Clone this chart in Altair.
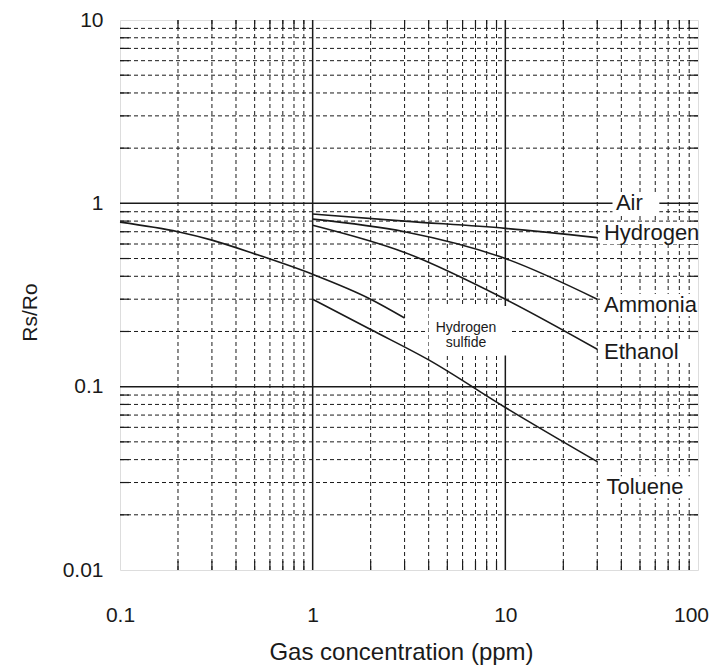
import altair as alt
import pandas as pd

# ---- curve data ----
hydrogen_x = [1, 3, 10, 30]
hydrogen_y = [0.875, 0.80, 0.73, 0.65]
ammonia_x = [1, 3, 10, 30]
ammonia_y = [0.82, 0.70, 0.50, 0.30]
ethanol_x = [1, 3, 10, 30]
ethanol_y = [0.76, 0.54, 0.30, 0.16]
h2s_x = [0.1, 0.2, 0.3, 0.5, 1, 2, 3]
h2s_y = [0.79, 0.70, 0.63, 0.53, 0.41, 0.30, 0.237]
toluene_x = [1, 2, 4, 10, 30]
toluene_y = [0.30, 0.205, 0.14, 0.077, 0.039]

# ---- axis ticks / grid ----
x_ticks = [0.1, 1, 10, 100]
y_ticks = [0.01, 0.1, 1, 10]
x_major = [1, 10]
y_major = [0.1, 1]
x_minor = [0.2, 0.3, 0.4, 0.5, 0.6, 0.7, 0.8, 0.9,
           2, 3, 4, 5, 6, 7, 8, 9,
           20, 30, 40, 50, 60, 70, 80, 90]
y_minor = [0.02, 0.03, 0.04, 0.05, 0.06, 0.07, 0.08, 0.09,
           0.2, 0.3, 0.4, 0.5, 0.6, 0.7, 0.8, 0.9,
           2, 3, 4, 5, 6, 7, 8, 9]

# ---- labels ----
label_text = ["Air", "Hydrogen", "Ammonia", "Ethanol", "Toluene"]
label_x = [37.5, 32.5, 32.5, 32.5, 33.5]
label_y = [1.0, 0.69, 0.279, 0.155, 0.0283]
box_x1 = [36, 31.5, 31.5, 31.5, 31.5]
box_x2 = [63, 100, 100, 100, 100]
box_y1 = [0.87, 0.60, 0.243, 0.135, 0.0246]
box_y2 = [1.14, 0.79, 0.32, 0.178, 0.0325]

h2s_label = ["Hydrogen", "sulfide"]
h2s_label_x = [6.25, 6.25]
h2s_label_y = [0.209, 0.173]
h2s_box_x1 = [4.0]
h2s_box_x2 = [10.6]
h2s_box_y1 = [0.148]
h2s_box_y2 = [0.275]

W, H = 578, 550
FONT = "Liberation Sans"
INK = "#1a1a1a"

rows = []
for name, xs_, ys_ in [("Hydrogen", hydrogen_x, hydrogen_y),
                       ("Ammonia", ammonia_x, ammonia_y),
                       ("Ethanol", ethanol_x, ethanol_y),
                       ("Hydrogen sulfide", h2s_x, h2s_y),
                       ("Toluene", toluene_x, toluene_y)]:
    for a, b in zip(xs_, ys_):
        rows.append({"gas": name, "x": a, "y": b})
curves = pd.DataFrame(rows)

xs = alt.Scale(type="log", domain=[0.1, 100], nice=False)
ys = alt.Scale(type="log", domain=[0.01, 10], nice=False)

xaxis = alt.Axis(values=x_ticks, format="~g", title="Gas concentration (ppm)",
                 grid=False, ticks=False, domain=False, labelFontSize=21,
                 labelFont=FONT, labelColor=INK, labelPadding=34,
                 labelOffset={"condition": {"test": "datum.value >= 100", "value": -7},
                              "value": 0},
                 labelFlush=False, titleFont=FONT, titleFontSize=24,
                 titleFontWeight="normal", titleColor=INK,
                 titleBaseline="alphabetic", titleY=89, titleX=281)
yaxis = alt.Axis(values=y_ticks, format="~g", title="Rs/Ro",
                 grid=False, ticks=False, domain=False, labelFontSize=21,
                 labelFont=FONT, labelColor=INK, labelPadding=17,
                 labelFlush=False, titleFont=FONT, titleFontSize=21,
                 titleFontWeight="normal", titleColor=INK,
                 titleX=-90, titleY=292, titleBaseline="middle",
                 titleAlign="center", titleAngle=-90)

dash = [4, 3]

vminor = alt.Chart(pd.DataFrame({"v": x_minor})).mark_rule(
    color=INK, strokeWidth=1, strokeDash=dash).encode(
    x=alt.X("v:Q", scale=xs, axis=xaxis))
hminor = alt.Chart(pd.DataFrame({"v": y_minor})).mark_rule(
    color=INK, strokeWidth=1, strokeDash=dash).encode(
    y=alt.Y("v:Q", scale=ys, axis=yaxis))
vmajor = alt.Chart(pd.DataFrame({"v": x_major})).mark_rule(
    color=INK, strokeWidth=1.5).encode(
    x=alt.X("v:Q", scale=xs, axis=xaxis))
hmajor = alt.Chart(pd.DataFrame({"v": y_major})).mark_rule(
    color=INK, strokeWidth=1.5).encode(
    y=alt.Y("v:Q", scale=ys, axis=yaxis))

tick_len = 9
ticks_top = alt.Chart(pd.DataFrame({"v": x_minor})).mark_rule(
    color=INK, strokeWidth=1.2).encode(
    x=alt.X("v:Q", scale=xs, axis=xaxis), y=alt.value(0), y2=alt.value(tick_len))
ticks_bottom = alt.Chart(pd.DataFrame({"v": x_minor})).mark_rule(
    color=INK, strokeWidth=1.2).encode(
    x=alt.X("v:Q", scale=xs, axis=xaxis), y=alt.value(H - tick_len), y2=alt.value(H))
ticks_left = alt.Chart(pd.DataFrame({"v": y_minor})).mark_rule(
    color=INK, strokeWidth=1.2).encode(
    y=alt.Y("v:Q", scale=ys, axis=yaxis), x=alt.value(0), x2=alt.value(tick_len))
ticks_right = alt.Chart(pd.DataFrame({"v": y_minor})).mark_rule(
    color=INK, strokeWidth=1.2).encode(
    y=alt.Y("v:Q", scale=ys, axis=yaxis), x=alt.value(W - tick_len), x2=alt.value(W))

boxes_df = pd.DataFrame({"x1": box_x1 + h2s_box_x1, "x2": box_x2 + h2s_box_x2,
                         "y1": box_y1 + h2s_box_y1, "y2": box_y2 + h2s_box_y2})
boxes = alt.Chart(boxes_df).mark_rect(color="white").encode(
    x=alt.X("x1:Q", scale=xs, axis=xaxis), x2="x2:Q",
    y=alt.Y("y1:Q", scale=ys, axis=yaxis), y2="y2:Q")

lines = alt.Chart(curves).mark_line(color=INK, strokeWidth=1.6,
                                    interpolate="monotone").encode(
    x=alt.X("x:Q", scale=xs, axis=xaxis),
    y=alt.Y("y:Q", scale=ys, axis=yaxis),
    detail="gas:N")

labels = alt.Chart(pd.DataFrame({"t": label_text, "x": label_x, "y": label_y})).mark_text(
    align="left", baseline="middle", font=FONT, fontSize=22, color=INK).encode(
    x=alt.X("x:Q", scale=xs, axis=xaxis),
    y=alt.Y("y:Q", scale=ys, axis=yaxis),
    text="t:N")

h2s_labels = alt.Chart(pd.DataFrame({"t": h2s_label, "x": h2s_label_x, "y": h2s_label_y})).mark_text(
    align="center", baseline="middle", font=FONT, fontSize=14, color=INK).encode(
    x=alt.X("x:Q", scale=xs, axis=xaxis),
    y=alt.Y("y:Q", scale=ys, axis=yaxis),
    text="t:N")

chart = alt.layer(
    vminor, hminor, vmajor, hmajor,
    ticks_top, ticks_bottom, ticks_left, ticks_right,
    boxes, lines, labels, h2s_labels
).properties(
    width=W, height=H,
    autosize=alt.AutoSizeParams(type="none"),
    padding={"left": 112, "top": 12, "right": 12, "bottom": 95},
).configure_view(
    stroke=INK, strokeWidth=1.5
).configure(background="white")

chart.save("out.html", embed_options={"renderer": "svg", "actions": False})
